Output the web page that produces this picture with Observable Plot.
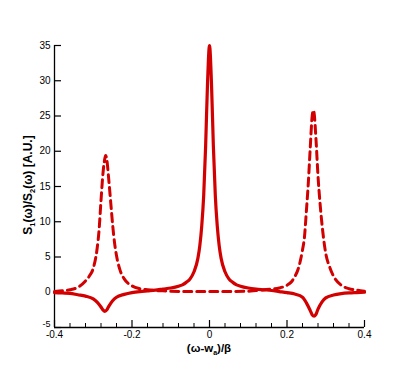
<!DOCTYPE html>
<html><head><meta charset="utf-8">
<script src="https://cdn.jsdelivr.net/npm/d3@7"></script>
<script src="https://cdn.jsdelivr.net/npm/@observablehq/plot@0.6"></script>
<style>body{margin:0;background:#fff} svg{display:block}</style>
</head><body><div id="chart"></div>
<script>
// Solid curve (S1)
const xSolid = [-0.40,-0.38,-0.36,-0.34,-0.32,-0.30,-0.29,-0.28,-0.275,-0.27,
  -0.265,-0.26,-0.25,-0.24,-0.22,-0.20,-0.18,-0.16,-0.14,-0.12,
  -0.10,-0.08,-0.07,-0.06,-0.05,-0.04,-0.03,-0.025,-0.02,-0.015,
  -0.01,-0.005,0,0.005,0.01,0.015,0.02,0.025,0.03,0.04,
  0.05,0.06,0.07,0.08,0.10,0.12,0.14,0.16,0.18,0.20,
  0.22,0.24,0.25,0.26,0.265,0.27,0.275,0.28,0.29,0.30,
  0.32,0.34,0.36,0.38,0.40];
const ySolid = [-0.05,-0.1,-0.15,-0.35,-0.55,-0.95,-1.4,-2.1,-2.5,-2.7,
  -2.5,-2.0,-1.2,-0.7,-0.3,-0.05,0.1,0.2,0.3,0.45,
  0.6,0.85,1.05,1.4,1.9,2.9,4.8,6.6,9.4,13.7,
  20.7,29.8,35,29.8,20.7,13.7,9.4,6.6,4.8,2.9,
  1.9,1.4,1.05,0.85,0.6,0.45,0.35,0.25,0.1,-0.05,
  -0.25,-0.7,-1.5,-2.6,-3.2,-3.4,-3.1,-2.4,-1.4,-0.8,
  -0.4,-0.2,-0.1,-0.05,0];
// Dashed curve (S2)
const xDashed = [-0.40,-0.38,-0.36,-0.34,-0.32,-0.31,-0.30,-0.29,-0.285,-0.28,
  -0.275,-0.27,-0.268,-0.265,-0.26,-0.255,-0.25,-0.245,-0.24,-0.23,
  -0.22,-0.20,-0.18,-0.16,-0.14,-0.12,-0.10,-0.05,0,0.05,
  0.10,0.12,0.14,0.16,0.18,0.20,0.21,0.22,0.23,0.24,
  0.245,0.25,0.255,0.26,0.265,0.268,0.27,0.275,0.28,0.285,
  0.29,0.30,0.31,0.32,0.34,0.36,0.38,0.40];
const yDashed = [0.1,0.2,0.35,0.7,1.6,2.3,3.4,6.2,8.8,13.0,
  16.8,19.0,19.4,18.8,16.0,12.8,9.6,7.0,5.2,3.0,
  1.9,0.9,0.5,0.35,0.25,0.2,0.15,0.1,0.1,0.1,
  0.15,0.25,0.35,0.45,0.6,1.0,1.4,2.2,3.5,6.0,
  7.8,11.5,15.5,20.5,25.0,25.8,25.4,21.5,16.5,12.8,
  9.8,5.5,3.6,2.3,1.0,0.5,0.3,0.15];
const xMajorTicks = [-0.4,-0.2,0,0.2,0.4];
const xMinorTicks = [-0.36,-0.32,-0.28,-0.24,-0.16,-0.12,-0.08,-0.04,0.04,0.08,0.12,0.16,0.24,0.28,0.32,0.36];
const yTicks = [-5,0,5,10,15,20,25,30,35];

const W = 415, H = 369, mL = 54, mR = 51, mT = 45, mB = 42;
const plotW = W - mL - mR, plotH = H - mT - mB;
const RED = "#d20000";
const solid = xSolid.map((x, i) => ({x, y: ySolid[i]}));
const dashed = xDashed.map((x, i) => ({x, y: yDashed[i]}));

const chart = Plot.plot({
  width: W, height: H,
  marginLeft: mL, marginRight: mR, marginTop: mT, marginBottom: mB,
  style: {fontFamily: "'Liberation Sans', Arial, Helvetica, sans-serif", fontSize: "10px", background: "#fff", color: "#000"},
  x: {domain: [-0.4, 0.4]},
  y: {domain: [-5, 35]},
  marks: [
    Plot.axisX(xMajorTicks, {tickSize: 0, tickPadding: 3, tickFormat: d => String(d), label: null}),
    Plot.axisY(yTicks.filter(d => d !== -5), {tickSize: 0, tickPadding: 4, tickFormat: d => String(d), label: null}),
    Plot.axisY([-5], {tickSize: 0, tickPadding: 4, dy: -3, fontSize: 9, tickFormat: d => String(d), label: null}),
    Plot.tickX(xMajorTicks, {x: d => d, insetTop: plotH - 7, stroke: "#000", strokeWidth: 1.2}),
    Plot.tickX(xMinorTicks, {x: d => d, insetTop: plotH - 4, stroke: "#000", strokeWidth: 1}),
    Plot.tickY(yTicks, {y: d => d, insetRight: plotW - 7, stroke: "#000", strokeWidth: 1.2}),
    Plot.ruleX([-0.4], {stroke: "#000", strokeWidth: 1.3}),
    Plot.ruleY([-5], {stroke: "#000", strokeWidth: 1.3}),
    Plot.line(solid, {x: "x", y: "y", stroke: RED, strokeWidth: 3.2, curve: "monotone-x"}),
    Plot.line(dashed, {x: "x", y: "y", stroke: RED, strokeWidth: 3, strokeDasharray: "8,5", curve: "monotone-x"})
  ]
});
document.getElementById("chart").appendChild(chart);

const svg = d3.select(chart);
// y-axis title with subscripts
const yt = svg.append("text")
  .attr("transform", `translate(32,185) rotate(-90)`)
  .attr("text-anchor", "middle")
  .attr("font-weight", "bold").attr("font-size", 12)
  .attr("font-family", "'Liberation Sans', Arial, sans-serif")
  .attr("fill", "#000");
yt.append("tspan").text("S");
yt.append("tspan").attr("font-size", 7.5).attr("dy", 3).text("1");
yt.append("tspan").attr("dy", -3).text("(ω)/S");
yt.append("tspan").attr("font-size", 7.5).attr("dy", 3).text("2");
yt.append("tspan").attr("dy", -3).text("(ω) [A.U.]");
// x-axis title
const xt = svg.append("text")
  .attr("x", 209).attr("y", 352)
  .attr("text-anchor", "middle")
  .attr("font-weight", "bold").attr("font-size", 11.5)
  .attr("font-family", "'Liberation Sans', Arial, sans-serif")
  .attr("fill", "#000");
xt.append("tspan").text("(ω-w");
xt.append("tspan").attr("font-size", 7).attr("dy", 3).text("a");
xt.append("tspan").attr("dy", -3).text(")/β");
</script>
</body></html>
